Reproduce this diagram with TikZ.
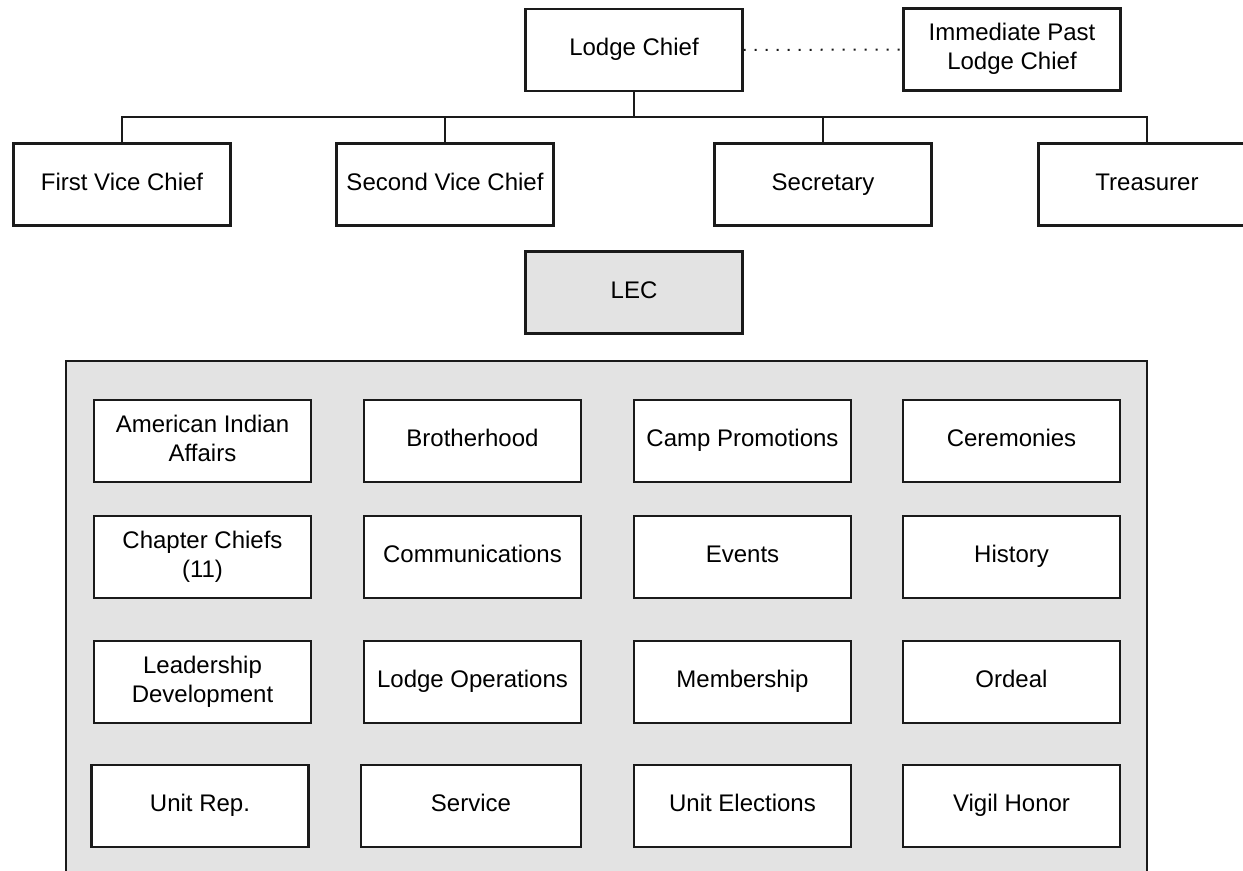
\documentclass[tikz,border=0pt]{standalone}
\usepackage{fontspec}
\setmainfont{Liberation Sans}
\definecolor{lecgray}{HTML}{E3E3E3}
\definecolor{edge}{HTML}{1A1A1A}
\begin{document}
\begin{tikzpicture}[x=0.5pt,y=-0.5pt,
  box/.style={draw=edge, line width=1.2pt, fill=white, minimum width=108.5pt,
    minimum height=41pt, inner sep=0pt, align=center,
    font=\fontsize{12}{14.5}\selectfont, text height=9pt, text depth=3.4pt},
  twoline/.style={text height=23.3pt, text depth=3.2pt},
  graybox/.style={box, fill=lecgray},
  link/.style={line width=1pt, draw=edge}]
\useasboundingbox (0,0) rectangle (1243,871);
\fill[white] (0,0) rectangle (1243,871);
% committee panel
\draw[line width=1.2pt, draw=edge, fill=lecgray] (66,361) rectangle (1147,900);
% top level
\node[box] (lc) at (634,50) {Lodge Chief};
\node[box, twoline] (ipl) at (1012,49.5) {Immediate Past\\Lodge Chief};
% officers
\node[box] (fvc) at (122,184.5) {First Vice Chief};
\node[box] (svc) at (445,184.5) {Second Vice Chief};
\node[box] (sec) at (823,184.5) {Secretary};
\node[box] (tre) at (1147,184.5) {Treasurer};
% LEC
\node[graybox] (lec) at (634,292.5) {LEC};
% connectors
\coordinate (bus) at (634,117);
\draw[link] (lc.south) -- (bus);
\draw[link] (fvc.north) |- (bus) -| (tre.north);
\draw[link] (svc.north) -- (svc.north |- bus);
\draw[link] (sec.north) -- (sec.north |- bus);
\draw[line width=1pt, draw=edge, dash pattern=on 1pt off 4.5pt] (lc.east) -- (ipl.west);
% committees
\node[box, twoline] (aia) at (202.5,441) {American Indian\\Affairs};
\node[box] (bro) at (472.5,441) {Brotherhood};
\node[box] (cpr) at (742.5,441) {Camp Promotions};
\node[box] (cer) at (1011.5,441) {Ceremonies};
\node[box, twoline] (cch) at (202.5,557) {Chapter Chiefs\\(11)};
\node[box] (com) at (472.5,557) {Communications};
\node[box] (evt) at (742.5,557) {Events};
\node[box] (his) at (1011.5,557) {History};
\node[box, twoline] (lde) at (202.5,682) {Leadership\\Development};
\node[box] (lop) at (472.5,682) {Lodge Operations};
\node[box] (mem) at (742.5,682) {Membership};
\node[box] (ord) at (1011.5,682) {Ordeal};
\node[box] (urp) at (200,806) {Unit Rep.};
\node[box, minimum width=110pt] (ser) at (471,806) {Service};
\node[box] (uel) at (742.5,806) {Unit Elections};
\node[box] (vig) at (1011.5,806) {Vigil Honor};
\end{tikzpicture}
\end{document}
